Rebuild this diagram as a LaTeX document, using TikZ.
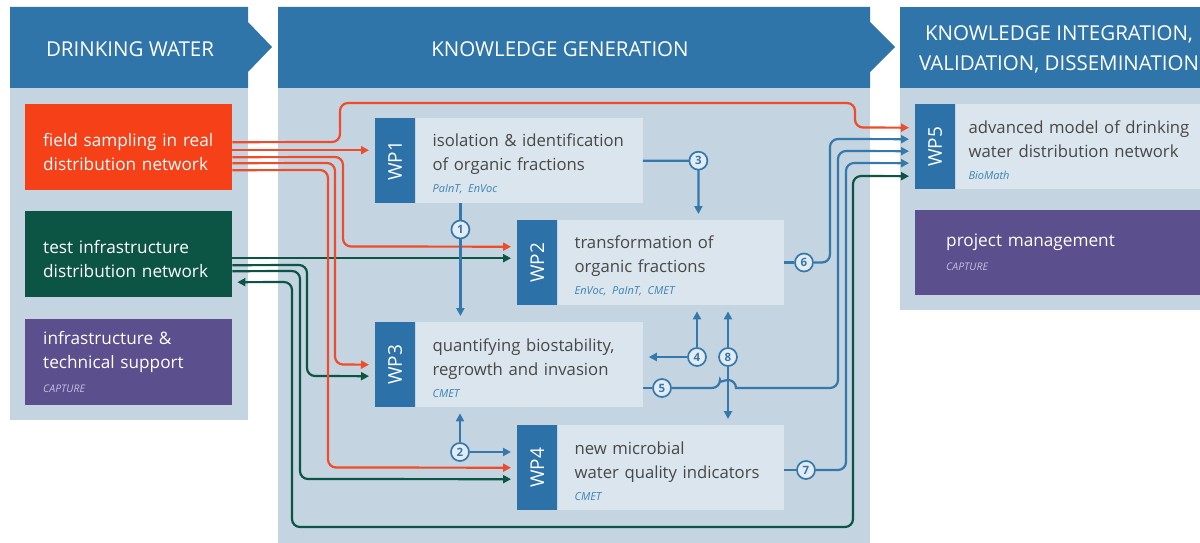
\documentclass[tikz,border=0pt]{standalone}
\usepackage{fontspec}
\setmainfont{Open Sans}
\usetikzlibrary{calc}
\usetikzlibrary{positioning}
\usetikzlibrary{arrows.meta}
\frenchspacing
\definecolor{headBlue}{RGB}{48,117,170}
\definecolor{panelBg}{RGB}{196,212,225}
\definecolor{boxBg}{RGB}{218,229,237}
\definecolor{tabBlue}{RGB}{44,113,168}
\definecolor{fieldRed}{RGB}{246,64,24}
\definecolor{lineRed}{RGB}{238,76,42}
\definecolor{testGreen}{RGB}{12,84,68}
\definecolor{mgmtPurple}{RGB}{92,79,141}
\definecolor{lineBlue}{RGB}{52,120,172}
\definecolor{textGrey}{RGB}{72,72,72}
\definecolor{noteBlue}{RGB}{60,130,180}
\definecolor{capLilac}{RGB}{196,190,226}
\definecolor{numFill}{RGB}{228,236,243}
\newcommand{\wpnote}[1]{{\fontsize{11}{12}\selectfont\itshape\color{noteBlue}#1}}
\newcommand{\capnote}[1]{{\fontsize{10.5}{12}\selectfont\itshape\color{capLilac}#1}}
\newcommand{\wptop}{\rule{0pt}{20pt}}
\newcommand{\boxtop}{\rule{0pt}{23pt}}
\tikzset{
  colorBox/.style={%
    rectangle, anchor=north west, minimum height=86pt,
    text width=171pt, inner xsep=18pt, align=left, text=white,
    font=\fontsize{17.2}{24}\selectfont,
  },
  wpTab/.style={%
    rectangle, anchor=north west, fill=tabBlue, minimum width=40pt,
    minimum height=85pt, inner sep=0pt, text=white,
    font=\fontsize{19}{19}\selectfont,
  },
  wpBox/.style={%
    rectangle, fill=boxBg, minimum height=85pt, inner xsep=17pt,
    align=left, text=textGrey, font=\fontsize{16.7}{24}\selectfont,
  },
  headText/.style={%
    text=white, align=center, font=\fontsize{20.5}{30}\selectfont,
  },
  numNode/.style={%
    circle, draw=lineBlue, fill=numFill, line width=1.7pt, inner sep=0pt,
    minimum size=18pt, text=lineBlue, font=\fontsize{11.5}{11.5}\selectfont\bfseries,
  },
  redArrow/.style={%
    draw=lineRed, line width=2.2pt, rounded corners=8pt, shorten >=6pt,
    -{Triangle[length=8pt,width=8pt]},
  },
  greenArrow/.style={%
    draw=testGreen, line width=2.2pt, rounded corners=8pt, shorten >=6pt,
    -{Triangle[length=8pt,width=8pt]},
  },
  greenBoth/.style={%
    greenArrow, shorten <=5pt,
    {Triangle[length=8pt,width=8pt]}-{Triangle[length=8pt,width=8pt]},
  },
  blueLine/.style={%
    draw=lineBlue, line width=2.2pt, rounded corners=8pt,
  },
  blueArrow/.style={%
    blueLine, shorten >=6pt, -{Triangle[length=8pt,width=8pt]},
  },
}

\begin{document}
\begin{tikzpicture}[x=1pt,y=-1pt]
          \useasboundingbox (0,0) rectangle (1200,543);
          \fill[white] (0,0) rectangle (1200,543);

          \fill[panelBg] (10,88) rectangle (248,420);
          \fill[panelBg] (278,88) rectangle (870,543);
          \fill[panelBg] (900,88) rectangle (1200,310);
          \fill[headBlue] (10,7) -- (248,7) -- (248,22) -- (272,47) -- (248,72)
            -- (248,88) -- (10,88) -- cycle;
          \fill[headBlue] (278,7) -- (870,7) -- (870,22) -- (895,47) -- (870,72)
            -- (870,88) -- (278,88) -- cycle;
          \fill[headBlue] (900,7) rectangle (1200,88);

          \node[headText] (hdWater) at (130,49) {DRINKING WATER};
          \node[headText] (hdGen) at (560,49) {KNOWLEDGE GENERATION};
          \node[headText] (hdInt) at (1059,49) {KNOWLEDGE INTEGRATION,\\VALIDATION, DISSEMINATION};

          \node[colorBox,fill=fieldRed] (field) at (25,104) {\boxtop field sampling in real\\distribution network};
          \node[colorBox,fill=testGreen] (test) at (25,211) {\boxtop test infrastructure\\distribution network};
          \node[colorBox,fill=mgmtPurple] (support) at (25,319) {infrastructure \&\\technical support\\\capnote{CAPTURE}};

          \node[wpTab] (wp1) at (375,118) {\rotatebox{90}{WP1}};
          \node[wpBox,text width=193pt,right=0pt of wp1] (wp1t) {\wptop isolation \& identification\\of organic fractions\\[-2pt]\wpnote{PaInT, EnVoc}};
          \node[wpTab] (wp2) at (517,220) {\rotatebox{90}{WP2}};
          \node[wpBox,text width=192pt,right=0pt of wp2] (wp2t) {\wptop transformation of\\organic fractions\\[-2pt]\wpnote{EnVoc, PaInT, CMET}};
          \node[wpTab] (wp3) at (375,322) {\rotatebox{90}{WP3}};
          \node[wpBox,text width=193pt,right=0pt of wp3] (wp3t) {\wptop quantifying biostability,\\regrowth and invasion\\[-2pt]\wpnote{CMET}};
          \node[wpTab] (wp4) at (517,425) {\rotatebox{90}{WP4}};
          \node[wpBox,text width=192pt,right=0pt of wp4] (wp4t) {\wptop new microbial\\water quality indicators\\[-2pt]\wpnote{CMET}};
          \node[wpTab] (wp5) at (915,104) {\rotatebox{90}{WP5}};
          \node[wpBox,text width=225pt,inner xsep=13pt,right=0pt of wp5] (wp5t) {\wptop advanced model of drinking\\water distribution network\\[-2pt]\wpnote{BioMath}};
          \node[colorBox,fill=mgmtPurple,text width=223pt,inner xsep=31pt,minimum height=85pt] (mgmt) at (915,210) {project management\\\capnote{CAPTURE}};

          \coordinate (fs1) at ([yshift=5pt]field.east);
          \coordinate (fs2) at ([yshift=-3pt]field.east);
          \coordinate (fs3) at ([yshift=-10pt]field.east);
          \coordinate (fs4) at ([yshift=-16pt]field.east);
          \coordinate (fs5) at ([yshift=-23pt]field.east);
          \coordinate (ti1) at ([yshift=-4pt]test.east);
          \coordinate (ti2) at ([yshift=-11pt]test.east);
          \coordinate (ti3) at ([yshift=-17pt]test.east);
          \coordinate (ti4) at ([yshift=-28pt]test.east);

          \draw[greenBoth] (ti4) -- (292,282) -- (292,527) -- (853,527) -- (853,176) -- ([yshift=-29.5pt]wp5.west);
          \draw[greenArrow] (ti3) -- (300,271) -- (300,479) -- ([yshift=-11.5pt]wp4.west);
          \draw[greenArrow] (ti2) -- (307,265) -- (307,376) -- ([yshift=-11.5pt]wp3.west);
          \draw[greenArrow] (ti1) -- (ti1 -| wp2.west);

          \draw[redArrow] (fs1) -- (340,142) -- (340,103) -- (855,103) -- (855,127.5) -- ([yshift=19pt]wp5.west);
          \draw[redArrow] (fs2) -- (fs2 -| wp1.west);
          \draw[redArrow] (fs3) -- (343,157) -- (343,246.5) -- ([yshift=16pt]wp2.west);
          \draw[redArrow] (fs4) -- (335,163) -- (335,364.5) -- (wp3.west);
          \draw[redArrow] (fs5) -- (328,170) -- (328,467.5) -- (wp4.west);

          \node[numNode] (n2) at (460,452) {2};
          \node[numNode] (n4) at (697,357) {4};
          \node[numNode] (n8) at (728,357) {8};
          \node[numNode] (n5) at (662,388) {5};
          \node[numNode] (n6) at (804,262.5) {6};
          \node[numNode] (n7) at (806,470) {7};

          \draw[blueArrow] ([xshift=45pt]wp1t.south west) -- ([xshift=45pt]wp3t.north west) node[numNode,pos=0.22] (n1) {1};
          \draw[blueArrow] (wp1t.east) -| ([xshift=141pt]wp2t.north west) node[numNode,pos=0.5] (n3) {3};
          \draw[blueArrow] (n2) -- (n2 |- wp3t.south);
          \draw[blueArrow] (n2) -- (n2 -| wp4.west);
          \draw[blueArrow] (n4) -- (n4 -| wp3t.east);
          \draw[blueArrow] (n4) -- (n4 |- wp2t.south);
          \draw[blueArrow] (n8) -- (n8 |- wp2t.south);
          \draw[blueArrow] (n8) -- (n8 |- wp4t.north);
          \draw[blueLine] (n5 -| wp3t.east) -- (n5);
          \draw[blueArrow] (n5) -- (720,388) [sharp corners] arc[start angle=180,end angle=0,radius=8pt] [rounded corners=8pt] -- (838,388) -- (838,151) -- ([yshift=-4.5pt]wp5.west);
          \draw[blueLine] (n6 -| wp2t.east) -- (n6);
          \draw[blueArrow] (n6) -- (830,262.5) -- (830,139) -- ([yshift=7.5pt]wp5.west);
          \draw[blueLine] (n7 -| wp4t.east) -- (n7);
          \draw[blueArrow] (n7) -- (846,470) -- (846,163) -- ([yshift=-16.5pt]wp5.west);
        \end{tikzpicture}
\end{document}
